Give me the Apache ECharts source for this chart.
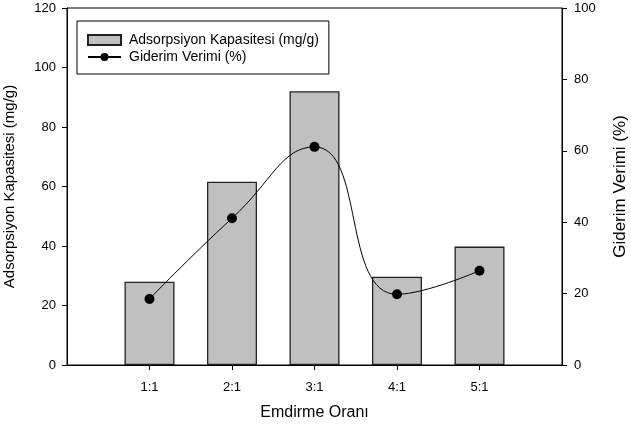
<!DOCTYPE html>
<html>
<head>
<meta charset="utf-8">
<script src="https://cdn.jsdelivr.net/npm/echarts@6/dist/echarts.min.js"></script>
<style>html,body{margin:0;padding:0;background:#fff;}#c{width:631px;height:425px;}</style>
</head>
<body>
<div id="c"></div>
<script>
const categories = ['1:1', '2:1', '3:1', '4:1', '5:1'];
const capacity = [28, 61.6, 92, 29.7, 39.8];
const efficiency = [18.5, 41.1, 61.1, 19.8, 26.4];
const seriesNames = ['Adsorpsiyon Kapasitesi (mg/g)', 'Giderim Verimi (%)'];

const axisCats = [''].concat(categories, ['']);
const pad = v => ['-'].concat(v, ['-']);
const font = 'Liberation Sans, Arial, sans-serif';

const chart = echarts.init(document.getElementById('c'), null, {renderer: 'canvas'});
chart.setOption({
  animation: false,
  textStyle: {fontFamily: font, color: '#000'},
  grid: {left: 67, right: 69, top: 8, bottom: 60, outerBoundsMode: 'none', containLabel: false,
         show: true, borderColor: '#000', borderWidth: 1, backgroundColor: 'transparent'},
  legend: {
    orient: 'vertical', left: 77, top: 21,
    data: [{name: seriesNames[0], icon: 'rect'}, {name: seriesNames[1]}],
    itemWidth: 33, itemHeight: 10, itemGap: 3,
    padding: [12, 10, 10, 10],
    borderColor: '#000', borderWidth: 1,
    textStyle: {fontSize: 14, fontFamily: font, color: '#000', padding: [0, 0, 0, 3]}
  },
  xAxis: {
    type: 'category', data: axisCats, boundaryGap: false,
    name: 'Emdirme Oranı', nameLocation: 'middle', nameGap: 40,
    nameTextStyle: {fontSize: 16, fontFamily: font, color: '#000'},
    axisLine: {lineStyle: {color: '#000', width: 1}},
    axisTick: {show: true, length: 5, interval: (i) => i >= 1 && i <= 5, lineStyle: {color: '#000'}},
    axisLabel: {interval: 0, fontSize: 13, color: '#000', margin: 16, fontFamily: font},
    splitLine: {show: false}
  },
  yAxis: [{
    type: 'value', min: 0, max: 120, interval: 20, position: 'left',
    name: seriesNames[0], nameLocation: 'middle', nameGap: 50, nameRotate: 90,
    nameTextStyle: {fontSize: 15, fontFamily: font, color: '#000'},
    axisLine: {show: true, lineStyle: {color: '#000', width: 1}},
    axisTick: {show: true, length: 5, lineStyle: {color: '#000'}},
    axisLabel: {fontSize: 13, color: '#000', margin: 11, fontFamily: font},
    splitLine: {show: false}
  }, {
    type: 'value', min: 0, max: 100, interval: 20, position: 'right',
    name: seriesNames[1], nameLocation: 'middle', nameGap: 50, nameRotate: 90,
    nameTextStyle: {fontSize: 17, fontFamily: font, color: '#000'},
    axisLine: {show: true, lineStyle: {color: '#000', width: 1}},
    axisTick: {show: true, length: 5, lineStyle: {color: '#000'}},
    axisLabel: {fontSize: 13, color: '#000', margin: 12, fontFamily: font},
    splitLine: {show: false}
  }],
  series: [{
    name: seriesNames[0], type: 'bar', yAxisIndex: 0,
    data: pad(capacity), barWidth: 50,
    itemStyle: {color: '#c0c0c0', borderColor: '#222', borderWidth: 1.3}
  }, {
    name: seriesNames[1], type: 'line', yAxisIndex: 1,
    data: pad(efficiency), smooth: 0.5,
    symbol: 'circle', symbolSize: 10,
    lineStyle: {color: '#000', width: 1},
    itemStyle: {color: '#000'}
  }]
});
</script>
</body>
</html>
